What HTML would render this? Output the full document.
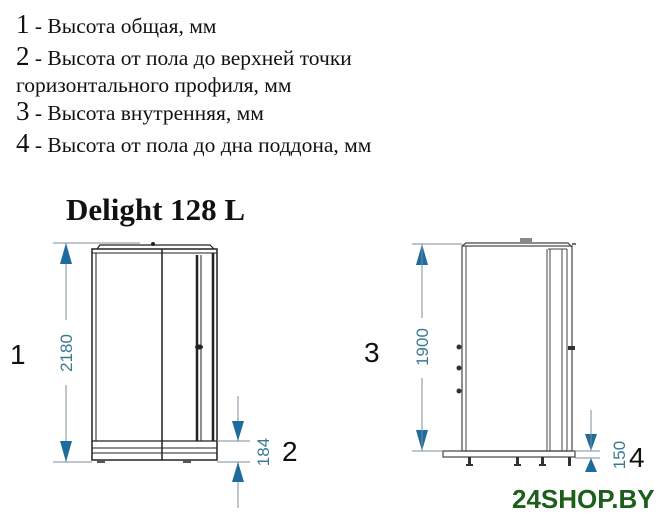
<!DOCTYPE html>
<html><head><meta charset="utf-8"><style>
html,body{margin:0;padding:0;background:#fff;}
body{width:660px;height:519px;overflow:hidden;}
</style></head><body>
<svg width="660" height="519" viewBox="0 0 660 519" xmlns="http://www.w3.org/2000/svg">
<g font-family="Liberation Serif, Noto Serif CJK SC, serif" fill="#111" font-size="21.5">
<text x="16" y="33"><tspan font-size="27">1</tspan> - Высота общая, мм</text>
<text x="16" y="65"><tspan font-size="27">2</tspan> - Высота от пола до верхней точки</text>
<text x="16" y="92">горизонтального профиля, мм</text>
<text x="16" y="120"><tspan font-size="27">3</tspan> - Высота внутренняя, мм</text>
<text x="16" y="152"><tspan font-size="27">4</tspan> - Высота от пола до дна поддона, мм</text>
<text x="66" y="220" font-size="31" font-weight="bold">Delight 128 L</text>
</g>
<g font-family="Liberation Sans, sans-serif" font-size="28" fill="#111">
<text x="10" y="364">1</text>
<text x="282" y="461">2</text>
<text x="364" y="362">3</text>
<text x="629" y="467">4</text>
</g>
<!-- Left drawing -->
<g stroke="#222" fill="none">
<path d="M97 249 L100 245 L210 245 L214 249" stroke-width="1.2"/>
<rect x="92" y="249" width="125" height="211" stroke-width="1.5"/>
<line x1="92" y1="253" x2="217" y2="253" stroke-width="1"/>
<line x1="96" y1="253" x2="96" y2="441" stroke-width="1"/>
<line x1="162" y1="249" x2="162" y2="460" stroke-width="1.5"/>
<line x1="197" y1="255" x2="197" y2="441" stroke-width="2.5"/>
<line x1="201" y1="255" x2="201" y2="441" stroke-width="1"/>
<line x1="213" y1="253" x2="213" y2="441" stroke-width="2.5"/>
<line x1="92" y1="441" x2="217" y2="441" stroke-width="1.2"/>
<line x1="92" y1="448" x2="217" y2="448" stroke-width="1"/>
<line x1="92" y1="453" x2="217" y2="453" stroke-width="1"/>
</g>
<circle cx="153" cy="244" r="2" fill="#222"/>
<ellipse cx="199" cy="347" rx="4" ry="2.5" fill="#222"/>
<rect x="97" y="460" width="8" height="3" fill="#555"/>
<rect x="183" y="460" width="8" height="3" fill="#555"/>
<!-- Left dims -->
<g stroke="#7a8e9a" stroke-width="1">
<line x1="53" y1="243" x2="140" y2="243"/>
<line x1="53" y1="462" x2="92" y2="462"/>
<line x1="66" y1="243" x2="66" y2="320"/>
<line x1="66" y1="385" x2="66" y2="462"/>
<line x1="217" y1="441" x2="250" y2="441"/>
<line x1="217" y1="462" x2="250" y2="462"/>
<line x1="238" y1="396" x2="238" y2="441"/>
<line x1="238" y1="462" x2="238" y2="508"/>
</g>
<g fill="#1f6b9c">
<polygon points="66,243 60,264 72,264"/>
<polygon points="66,462 60,441 72,441"/>
<polygon points="238,441 232,421 244,421"/>
<polygon points="238,462 232,482 244,482"/>
<polygon points="422,244 416,265 428,265"/>
<polygon points="422,451 416,430 428,430"/>
<polygon points="591,451 585,434 597,434"/>
<polygon points="591,458 585,472 597,472"/>
</g>
<g font-family="Liberation Sans, sans-serif" font-size="17" fill="#3a7a8e">
<text transform="translate(72,353) rotate(-90)" text-anchor="middle">2180</text>
<text transform="translate(269,452) rotate(-90)" text-anchor="middle">184</text>
<text transform="translate(428,347) rotate(-90)" text-anchor="middle">1900</text>
<text transform="translate(625,455) rotate(-90)" text-anchor="middle">150</text>
</g>
<!-- Right drawing -->
<g stroke="#444" fill="none">
<path d="M462 246 L466 243 L568 243 L572 247" stroke-width="1.2"/>
<rect x="462" y="246" width="110" height="205" stroke-width="1.2"/>
<line x1="466" y1="246" x2="466" y2="451" stroke-width="1"/>
<line x1="547" y1="249" x2="547" y2="451" stroke-width="1"/>
<line x1="550" y1="249" x2="550" y2="451" stroke-width="1"/>
<line x1="562" y1="249" x2="562" y2="451" stroke-width="1"/>
<line x1="567" y1="249" x2="567" y2="451" stroke-width="1"/>
<line x1="548" y1="249" x2="567" y2="249" stroke-width="1"/>
<rect x="443" y="451" width="132" height="6" stroke-width="1.2"/>
<line x1="572" y1="244" x2="576" y2="244" stroke-width="1.5"/>
</g>
<rect x="520" y="238" width="12" height="5" fill="#888"/>
<g fill="#333">
<circle cx="459" cy="347" r="2.5"/><circle cx="459" cy="368" r="2.5"/><circle cx="459" cy="391" r="2.5"/>
<rect x="568" y="346" width="7" height="4"/>
<rect x="468" y="457" width="3" height="9"/><rect x="466" y="464" width="7" height="2"/>
<rect x="516" y="457" width="3" height="9"/><rect x="514" y="464" width="7" height="2"/>
<rect x="541" y="457" width="3" height="9"/><rect x="539" y="464" width="7" height="2"/>
<rect x="568" y="457" width="3" height="9"/>
</g>
<g stroke="#7a8e9a" stroke-width="1">
<line x1="412" y1="244" x2="462" y2="244"/>
<line x1="412" y1="451" x2="443" y2="451"/>
<line x1="422" y1="244" x2="422" y2="318"/>
<line x1="422" y1="378" x2="422" y2="451"/>
<line x1="575" y1="451" x2="600" y2="451"/>
<line x1="575" y1="458" x2="600" y2="458"/>
<line x1="591" y1="410" x2="591" y2="451"/>
</g>
<text x="512" y="508" font-family="Liberation Sans, sans-serif" font-weight="bold" font-size="26" fill="#1d5e1d">24SHOP.BY</text>
</svg>
</body></html>
